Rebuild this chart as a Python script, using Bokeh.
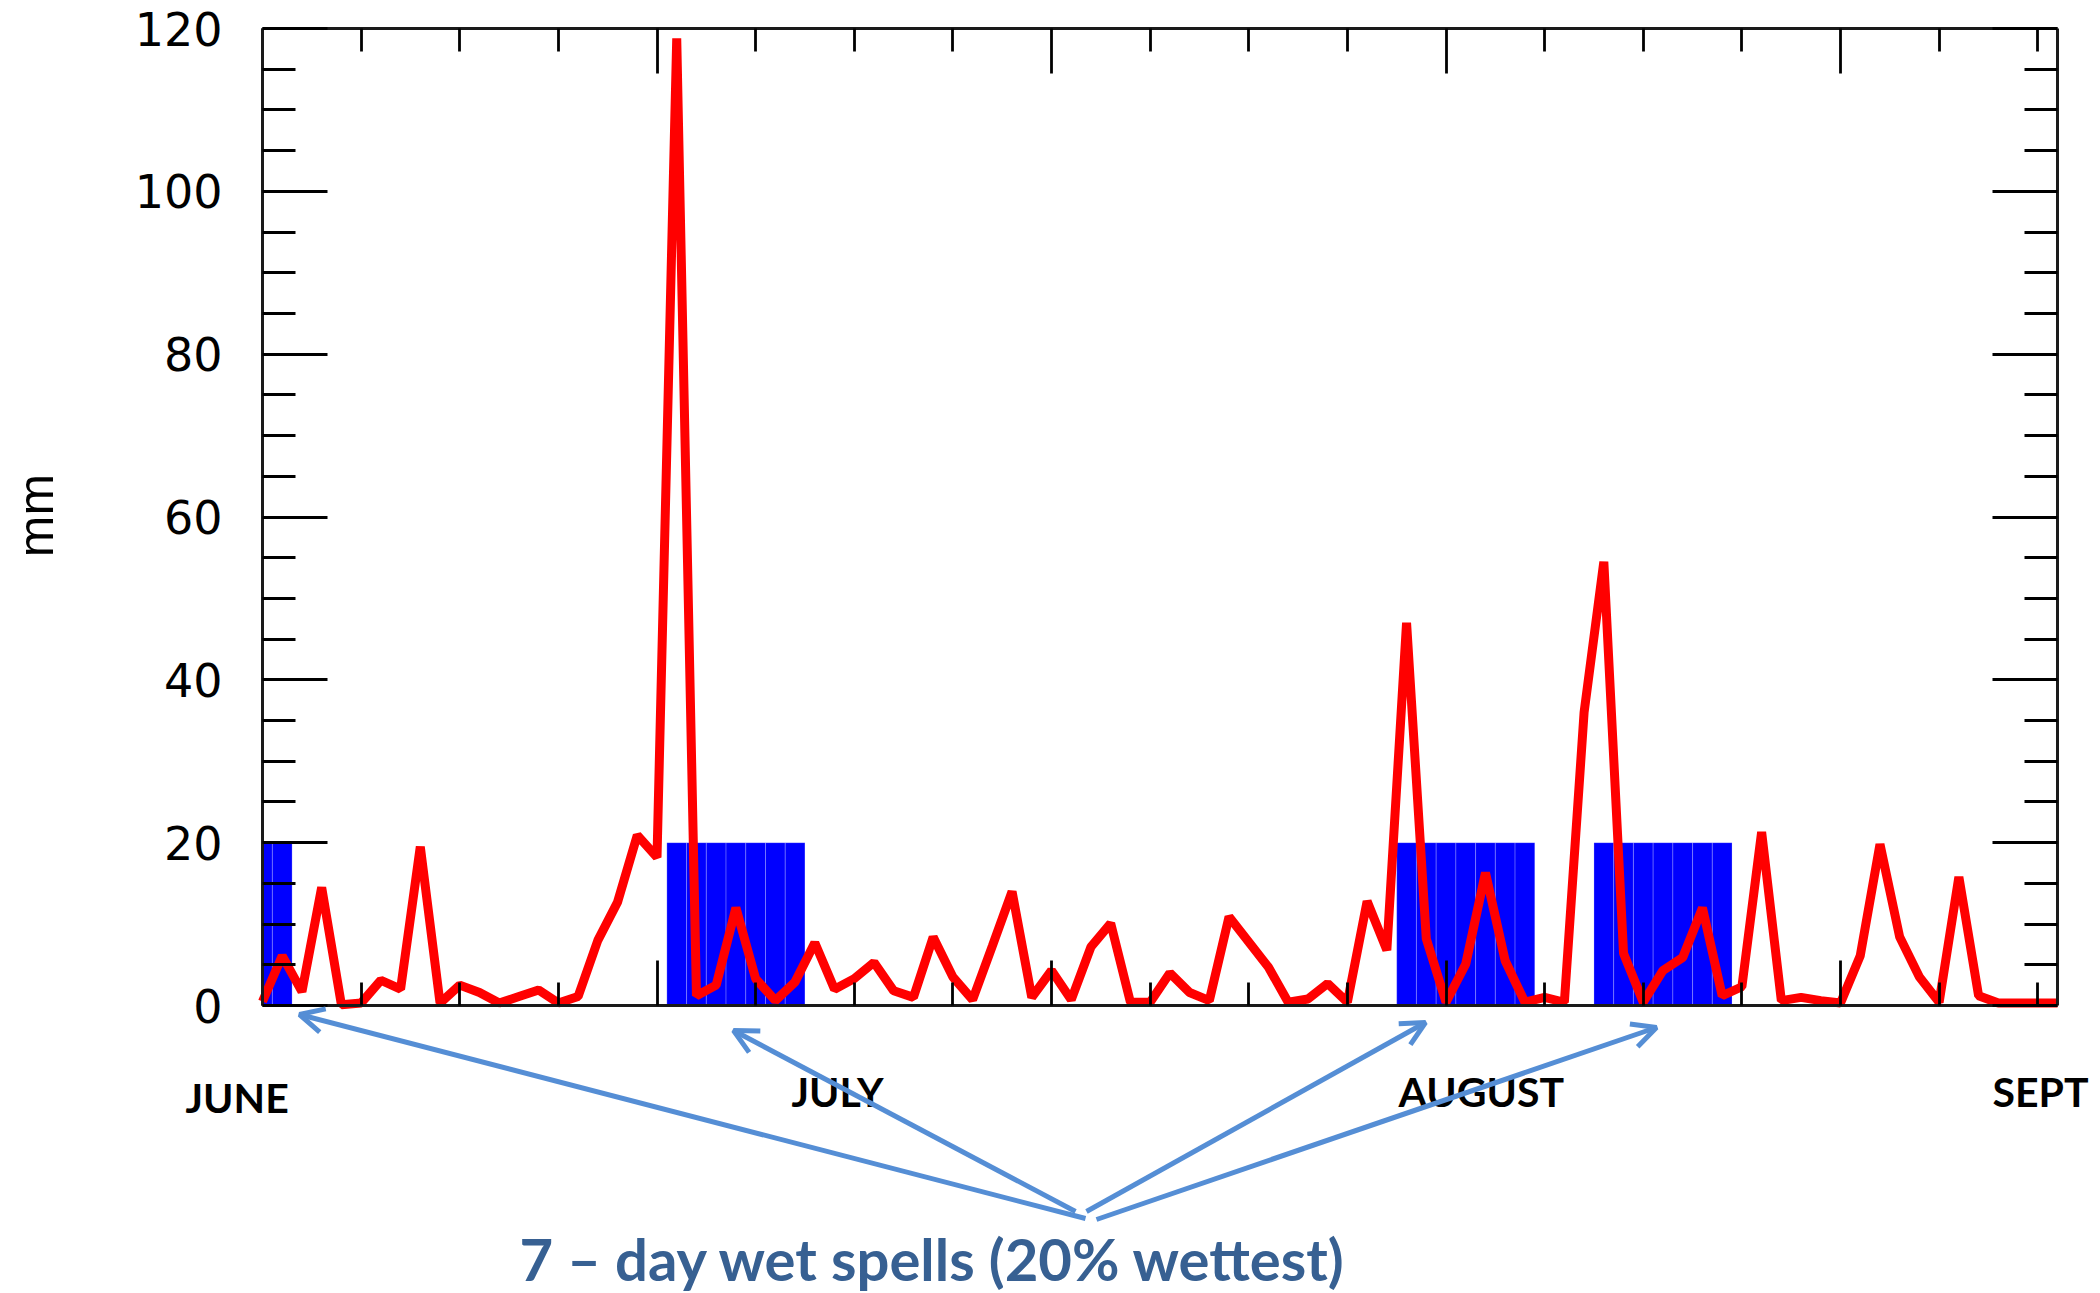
import math
from bokeh.plotting import figure
from bokeh.models import (Range1d, LinearAxis, FixedTicker, Label, Arrow, OpenHead,
                          ColumnDataSource, CustomJSTickFormatter)
from bokeh.embed import file_html
from bokeh.resources import INLINE

# ---------------- data ----------------
days = list(range(92))  # 1 June .. 31 August (day index 0..91)
rain_mm = [0.5, 6.1, 1.7, 14.5, 0.1, 0.3, 3.1, 2.0, 19.5, 0.3,
           2.5, 1.6, 0.3, 1.1, 1.9, 0.3, 1.1, 8.0, 12.7, 20.9,
           18.2, 118.8, 1.2, 2.5, 12.0, 3.3, 0.6, 2.9, 7.7, 2.0,
           3.3, 5.3, 1.8, 1.0, 8.4, 3.5, 0.7, 7.3, 14.0, 1.0,
           4.3, 0.7, 7.2, 10.1, 0.4, 0.4, 4.0, 1.6, 0.6, 10.9,
           7.8, 4.7, 0.4, 0.8, 2.7, 0.4, 12.8, 6.8, 47.0, 8.2,
           0.4, 5.1, 16.3, 5.5, 0.4, 1.0, 0.4, 36.0, 54.5, 6.4,
           0.4, 4.3, 5.9, 12.0, 1.2, 2.3, 21.3, 0.6, 1.0, 0.6,
           0.3, 6.1, 19.8, 8.4, 3.5, 0.4, 15.8, 1.2, 0.3, 0.3,
           0.3, 0.3]

# days belonging to the 7-day wet spells (20% wettest)
spell_days = [0, 1,
              21, 22, 23, 24, 25, 26, 27,
              58, 59, 60, 61, 62, 63, 64,
              68, 69, 70, 71, 72, 73, 74]
spell_marker = [20] * len(spell_days)

x_major = [0, 20, 40, 60, 80]
x_minor = [5, 10, 15, 25, 30, 35, 45, 50, 55, 65, 70, 75, 85, 90]
y_major = [0, 20, 40, 60, 80, 100, 120]
y_minor = [5, 10, 15, 25, 30, 35, 45, 50, 55, 65, 70, 75, 85, 90, 95, 105, 110, 115]

month_labels = ["JUNE", "JULY", "AUGUST", "SEPT"]
y_title = "mm"
note_text = "7 \u2013 day wet spells (20% wettest)"

# ---------------- layout ----------------
W, H = 2100, 1293
X0, X1, Y0, Y1 = 0, 91, 0, 120
BOX_L, BOX_R, BOX_T, BOX_B = 262, 2057, 28, 1005   # plot box on the canvas (px)
SX = (BOX_R - BOX_L) / (X1 - X0)
SY = (BOX_B - BOX_T) / (Y1 - Y0)
LABEL_SHIFT = 16  # compensation for label baseline placement (px)


def dx(px):  # canvas pixel -> data x
    return X0 + (px - BOX_L) / SX


def dy(py):  # canvas pixel -> data y
    return Y0 + (BOX_B - py) / SY


p = figure(width=W, height=H,
           x_range=Range1d(X0 - BOX_L / SX, X1 + (W - BOX_R) / SX),
           y_range=Range1d(Y0 - (H - BOX_B) / SY, Y1 + BOX_T / SY),
           output_backend="svg", toolbar_location=None,
           x_axis_location=None, y_axis_location=None,
           min_border=0, min_border_left=0, min_border_right=0,
           min_border_top=0, min_border_bottom=0)
p.grid.visible = False
p.outline_line_color = None
p.background_fill_color = "white"
p.border_fill_color = "white"

blank = CustomJSTickFormatter(code="return ''")

ax_bottom = LinearAxis(fixed_location=Y0, bounds=(X0, X1), formatter=blank)
ax_top = LinearAxis(fixed_location=Y1, bounds=(X0, X1), formatter=blank)
ax_left = LinearAxis(fixed_location=X0, bounds=(Y0, Y1))
ax_right = LinearAxis(fixed_location=X1, bounds=(Y0, Y1), formatter=blank)
p.add_layout(ax_bottom, "below")
p.add_layout(ax_top, "above")
p.add_layout(ax_left, "left")
p.add_layout(ax_right, "right")

for ax in [ax_bottom, ax_top]:
    ax.ticker = FixedTicker(ticks=x_major, minor_ticks=x_minor)
    ax.major_tick_in = 45
    ax.minor_tick_in = 23
for ax in [ax_left, ax_right]:
    ax.ticker = FixedTicker(ticks=y_major, minor_ticks=y_minor)
    ax.major_tick_in = 65
    ax.minor_tick_in = 33
for ax in [ax_bottom, ax_top, ax_left, ax_right]:
    ax.major_tick_out = 0
    ax.minor_tick_out = 0
    ax.major_tick_line_width = 2.8
    ax.minor_tick_line_width = 2.8
    ax.major_tick_line_color = "black"
    ax.minor_tick_line_color = "black"
    ax.axis_line_width = 3
    ax.axis_line_color = "#1a1a1a"
    ax.major_label_text_font_size = "10px"

ax_left.major_label_text_font = "DejaVu Sans"
ax_left.major_label_text_font_size = "46px"
ax_left.major_label_text_color = "black"
ax_left.major_label_standoff = 40

# wet spell bars (one bar per day, clipped to the plot box)
bars = ColumnDataSource(dict(
    left=[max(d - 0.5, X0) for d in spell_days],
    right=[min(d + 0.5, X1) for d in spell_days],
    top=spell_marker))
p.quad(left="left", right="right", top="top", bottom=0, source=bars,
       fill_color="#0000FF", line_color="white", line_alpha=0.22, line_width=1)

# daily rainfall
src = ColumnDataSource(dict(x=days, y=rain_mm))
p.line(x="x", y="y", source=src, line_color="#FF0000", line_width=9)

# y title
p.add_layout(Label(x=dx(35), y=dy(515), text=y_title, angle=math.pi / 2,
                   text_align="center", text_baseline="alphabetic",
                   text_font="Liberation Sans", text_font_size="50px", text_color="black"))

# month labels
month_pos = [(185, 1113), (791, 1107), (1398, 1107), (1992, 1107)]
for name, (lx, ly) in zip(month_labels, month_pos):
    p.add_layout(Label(x=dx(lx), y=dy(ly - LABEL_SHIFT), text=name, text_align="left",
                       text_baseline="alphabetic", text_font="Lato", text_font_style="bold",
                       text_font_size="41px", text_color="black"))

# arrows
arrow_col = "#558ED5"
arrow_paths = [((1085, 1218), (299, 1014)),
               ((1075, 1211), (733, 1030)),
               ((1086, 1211), (1425, 1022)),
               ((1096, 1219), (1656, 1027))]
for (sx, sy), (ex, ey) in arrow_paths:
    p.add_layout(Arrow(x_start=dx(sx), y_start=dy(sy), x_end=dx(ex), y_end=dy(ey),
                       line_color=arrow_col, line_width=5,
                       end=OpenHead(size=24, line_color=arrow_col, line_width=5)))

# note
p.add_layout(Label(x=dx(933), y=dy(1274 - LABEL_SHIFT), text=note_text, text_align="center",
                   text_baseline="alphabetic", text_font="Lato", text_font_style="bold",
                   text_font_size="58px", text_color="#376092"))

open("out.html", "w").write(file_html(p, INLINE))
